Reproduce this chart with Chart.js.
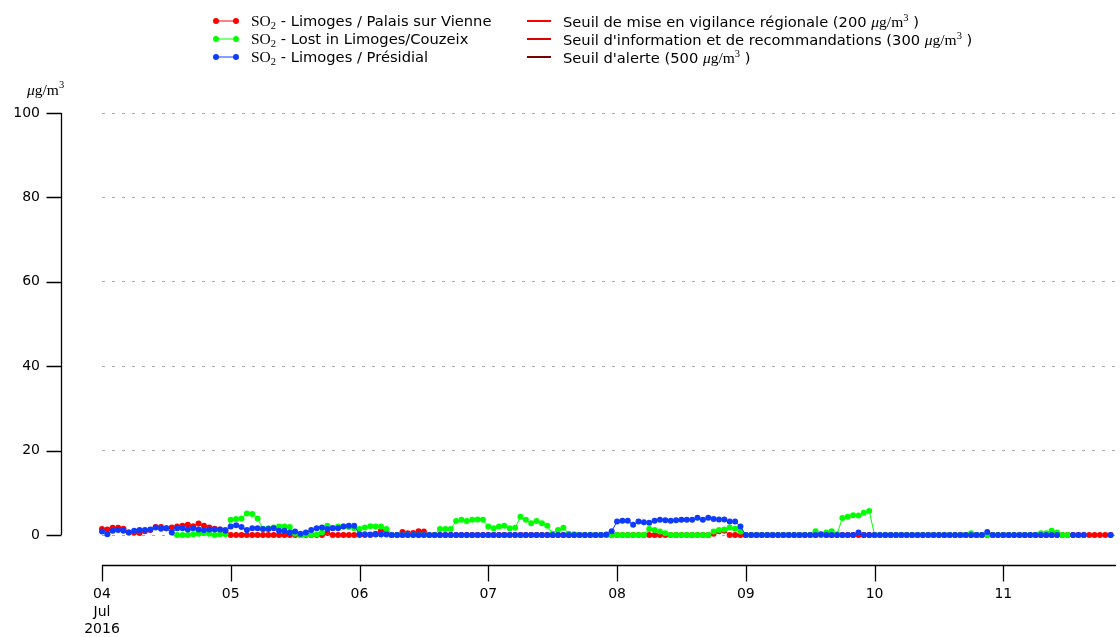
<!DOCTYPE html>
<html>
<head>
<meta charset="utf-8">
<script src="https://cdn.jsdelivr.net/npm/chart.js@4"></script>
<style>
  html, body { margin:0; padding:0; background:#fff; }
  body { width:1120px; height:637px; overflow:hidden; position:relative; font-family:"DejaVu Sans", sans-serif; }
  #wrap { position:absolute; left:0; top:0; width:1120px; height:637px; }
  .row { position:absolute; height:18px; display:flex; align-items:center; white-space:nowrap; font-size:14.7px; color:#000; }
  .row svg { margin-right:12px; flex:none; }
  .m { font-family:"Liberation Serif", serif; font-size:15.5px; }
  .m sub { font-size:10.5px; vertical-align:-3px; }
  .m sup { font-size:10.5px; vertical-align:6px; }
  .unit { position:absolute; left:27px; top:79px; font-family:"Liberation Serif", serif; font-size:15.5px; }
  .unit sup { font-size:10.5px; vertical-align:7px; }
</style>
</head>
<body>
<div id="wrap"><canvas id="c" width="1120" height="637" style="width:1120px;height:637px"></canvas></div>

<div class="row" style="left:213px;top:12px"><svg width="26" height="8"><line x1="3" y1="4" x2="23" y2="4" stroke="#ff0000" stroke-width="1"/><circle cx="3" cy="4" r="3" fill="#ff0000"/><circle cx="23" cy="4" r="3" fill="#ff0000"/></svg><span><span class="m">SO<sub>2</sub></span> - Limoges / Palais sur Vienne</span></div>
<div class="row" style="left:213px;top:30px"><svg width="26" height="8"><line x1="3" y1="4" x2="23" y2="4" stroke="#00ff00" stroke-width="1"/><circle cx="3" cy="4" r="3" fill="#00ff00"/><circle cx="23" cy="4" r="3" fill="#00ff00"/></svg><span><span class="m">SO<sub>2</sub></span> - Lost in Limoges/Couzeix</span></div>
<div class="row" style="left:213px;top:48px"><svg width="26" height="8"><line x1="3" y1="4" x2="23" y2="4" stroke="#0f3bff" stroke-width="1"/><circle cx="3" cy="4" r="3" fill="#0f3bff"/><circle cx="23" cy="4" r="3" fill="#0f3bff"/></svg><span><span class="m">SO<sub>2</sub></span> - Limoges / Présidial</span></div>

<div class="row" style="left:527px;top:12px"><svg width="24" height="8"><line x1="0" y1="4" x2="24" y2="4" stroke="#ff0000" stroke-width="2"/></svg><span>Seuil de mise en vigilance régionale (200 <span class="m"><i>μ</i>g/m<sup>3</sup></span> )</span></div>
<div class="row" style="left:527px;top:30px"><svg width="24" height="8"><line x1="0" y1="4" x2="24" y2="4" stroke="#e00000" stroke-width="2"/></svg><span>Seuil d'information et de recommandations (300 <span class="m"><i>μ</i>g/m<sup>3</sup></span> )</span></div>
<div class="row" style="left:527px;top:48px"><svg width="24" height="8"><line x1="0" y1="4" x2="24" y2="4" stroke="#7a0000" stroke-width="2"/></svg><span>Seuil d'alerte (500 <span class="m"><i>μ</i>g/m<sup>3</sup></span> )</span></div>

<div class="unit"><i>μ</i>g/m<sup>3</sup></div>

<script>
// Hourly values starting 04 Jul 2016 00:00 (one value per hour)
const dayLabels = ['04', '05', '06', '07', '08', '09', '10', '11'];
const firstDayLabel = ['04', 'Jul', '2016'];
const yTicks = [0, 20, 40, 60, 80, 100];
const visibleHours = 189; // window ends late on 11 Jul (plot is cut at the right edge)

const palais = [
  1.4, 1.3, 1.7, 1.7, 1.5, 0.6, 0.6, 0.5, 0.9, 1.2, 1.9, 1.9, 1.6, 1.8, 2.0, 2.2, 2.4, 2.1, 2.7, 2.2, 1.8, 1.5, 1.3, 1.2,
  0, 0, 0, 0, 0, 0, 0, 0, 0, 0, 0, 0, 0, 0, 0, 0, 0, 0, 0.5, 0, 0, 0, 0, 0,
  0, 0, 0, 0.3, 1.0, 0.9, 0, 0, 0.7, 0.4, 0.5, 0.9, 0.8, 0, 0, 0, 0, 0, 0, 0, 0, 0, 0, 0,
  0, 0, 0, 0, 0, 0, 0, 0, 0, 0, 0, 0, 0, 0, 0, 0, 0, 0, 0, 0, 0, 0, 0, 0,
  0, 0, 0, 0, 0, 0, 0, 0, 0, 0, 0, 0, 0, 0, 0, 0, 0, 0, 0.3, 0.9, 1.0, 0, 0, 0,
  0, 0, 0, 0, 0, 0, 0, 0, 0, 0, 0, 0, 0, 0, 0, 0, 0, 0, 0, 0, 0, 0, 0, 0,
  0, 0, 0, 0, 0, 0, 0, 0, 0, 0, 0, 0, 0, 0, 0, 0, 0, 0, 0, 0, 0, 0, 0, 0,
  0, 0, 0, 0, 0, 0, 0, 0, 0, 0, 0, 0, 0, 0, 0, 0, 0, 0, 0, 0, 0
];

const couzeix = [
  null, null, null, null, null, null, null, null, null, null, null, null, null, null, 0, 0, 0, 0.2, 0.3, 0.4, 0.3, 0, 0.2, 0.2,
  3.6, 3.8, 3.9, 5.1, 5.0, 3.9, 1.5, 1.6, 1.8, 2.0, 2.0, 1.9, 0.3, 0, 0.1, 0, 0.1, 0.6, 2.2, 1.7, 2.0, 2.0, 1.9, 1.6,
  1.4, 1.8, 2.1, 2.0, 2.0, 1.4, 0, 0, 0, 0, 0, 0, 0, 0, 0, 1.4, 1.4, 1.4, 3.3, 3.6, 3.3, 3.6, 3.7, 3.6,
  2.0, 1.6, 2.0, 2.2, 1.6, 1.7, 4.3, 3.6, 2.8, 3.3, 2.8, 2.2, 0.3, 1.2, 1.7, 0.3, 0.2, 0, 0, 0, 0, 0, 0, 0,
  0, 0, 0, 0, 0, 0, 1.4, 1.2, 0.8, 0.4, 0, 0, 0, 0, 0, 0, 0, 0, 0.8, 1.2, 1.3, 1.8, 1.5, 0.8,
  0, 0, 0, 0, 0, 0, 0, 0, 0, 0, 0, 0, 0, 0.9, 0.1, 0.6, 0.9, 0.2, 4.0, 4.3, 4.7, 4.6, 5.3, 5.7,
  0, 0, 0, 0, 0, 0, 0, 0, 0, 0, 0, 0, 0, 0, 0, 0, 0, 0, 0.4, 0, 0, 0, 0, 0,
  0, 0, 0, 0, 0, 0, 0, 0.4, 0.4, 1.0, 0.6, 0, 0, null, null, null, null, null, null, null, null
];

const presidial = [
  0.8, 0.2, 1.0, 1.2, 1.0, 0.6, 1.0, 1.2, 1.2, 1.3, 1.8, 1.5, 1.6, 0.6, 1.6, 1.6, 1.3, 1.6, 1.3, 1.2, 1.3, 1.3, 1.3, 1.0,
  2.0, 2.3, 1.9, 1.2, 1.6, 1.6, 1.4, 1.4, 1.6, 1.0, 1.0, 0.6, 0.8, 0.3, 0.6, 1.2, 1.6, 1.8, 1.4, 1.6, 1.6, 2.0, 2.2, 2.2,
  0.2, 0.2, 0.1, 0.1, 0.1, 0.1, 0, 0, 0, 0, 0, 0, 0, 0, 0, 0, 0, 0, 0, 0, 0, 0, 0, 0,
  0, 0, 0, 0, 0, 0, 0, 0, 0, 0, 0, 0, 0, 0, 0, 0, 0, 0, 0, 0, 0, 0, 0.1, 0.9,
  3.2, 3.4, 3.4, 2.4, 3.2, 3.0, 2.9, 3.4, 3.6, 3.5, 3.4, 3.5, 3.6, 3.6, 3.6, 4.1, 3.6, 4.1, 3.8, 3.7, 3.7, 3.2, 3.2, 2.0,
  0, 0, 0, 0, 0, 0, 0, 0, 0, 0, 0, 0, 0, 0, 0.2, 0, 0, 0, 0, 0, 0, 0.6, 0, 0,
  0, 0, 0, 0, 0, 0, 0, 0, 0, 0, 0, 0, 0, 0, 0, 0, 0, 0, 0, 0, 0, 0.7, 0, 0,
  0, 0, 0, 0, 0, 0, 0, 0, 0, 0, 0, null, null, 0, 0, 0, null, null, null, null, 0
];

const toPoints = arr => arr.map((v, hour) => ({ x: hour, y: v }));

const spines = {
  id: 'spines',
  afterDraw(chart) {
    const { ctx, chartArea, scales } = chart;
    const x = scales.x, y = scales.y;
    ctx.save();
    ctx.strokeStyle = '#000';
    ctx.lineWidth = 1.3;
    ctx.beginPath();
    const sx = 61.5;
    ctx.moveTo(sx, y.getPixelForValue(y.max));
    ctx.lineTo(sx, y.getPixelForValue(y.min));
    y.ticks.forEach(t => {
      const py = Math.round(y.getPixelForValue(t.value)) + 0.5;
      ctx.moveTo(sx - 15, py);
      ctx.lineTo(sx, py);
    });
    const sy = Math.round(chartArea.bottom + 30) + 0.5;
    ctx.moveTo(chartArea.left, sy);
    ctx.lineTo(chartArea.right, sy);
    x.ticks.forEach(t => {
      const px = Math.round(x.getPixelForValue(t.value)) + 0.5;
      ctx.moveTo(px, sy);
      ctx.lineTo(px, sy + 16);
    });
    ctx.stroke();
    ctx.restore();
  }
};

const mk = (data, color, order) => ({
  data: toPoints(data),
  borderColor: color,
  backgroundColor: color,
  pointBackgroundColor: color,
  pointBorderWidth: 0,
  pointRadius: 3,
  borderWidth: 1,
  spanGaps: false,
  clip: false,
  order: order
});

new Chart(document.getElementById('c'), {
  type: 'line',
  data: {
    datasets: [
      mk(palais, '#ff0000', 2),
      mk(couzeix, '#00ff00', 1),
      mk(presidial, '#0f3bff', 0)
    ]
  },
  options: {
    responsive: false,
    animation: false,
    devicePixelRatio: 1,
    layout: { padding: { top: 113, left: 0, right: 0, bottom: 0 } },
    plugins: { legend: { display: false }, tooltip: { enabled: false } },
    elements: { line: { tension: 0 } },
    scales: {
      x: {
        type: 'linear',
        min: 0,
        max: visibleHours,
        grid: { display: false, drawTicks: false },
        border: { display: false },
        afterFit: s => { s.height = 102; },
        afterBuildTicks: s => { s.ticks = dayLabels.map((_, i) => ({ value: i * 24 })); },
        ticks: {
          autoSkip: false,
          maxRotation: 0,
          padding: 51,
          color: '#000',
          font: { family: 'DejaVu Sans', size: 14, lineHeight: 1.25 },
          callback: v => (v === 0 ? firstDayLabel : dayLabels[v / 24])
        }
      },
      y: {
        min: 0,
        max: 100,
        afterFit: s => { s.width = 102; },
        afterBuildTicks: s => { s.ticks = yTicks.map(v => ({ value: v })); },
        grid: { display: true, drawTicks: false, color: '#aaaaaa', lineWidth: 1 },
        border: { display: false, dash: [3, 7] },
        ticks: {
          padding: 62,
          color: '#000',
          font: { family: 'DejaVu Sans', size: 14 }
        }
      }
    }
  },
  plugins: [spines]
});
</script>
</body>
</html>
